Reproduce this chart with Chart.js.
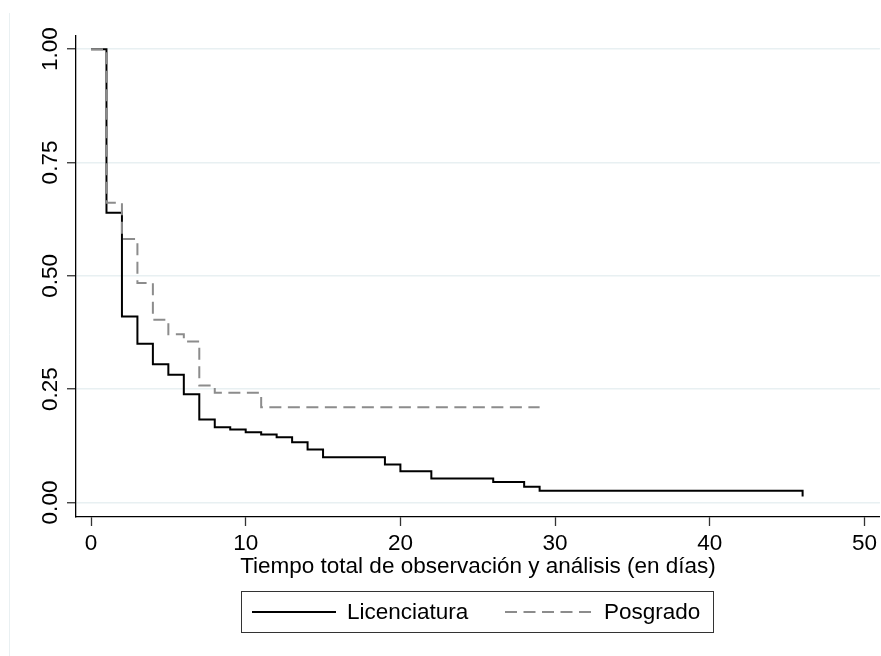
<!DOCTYPE html>
<html>
<head>
<meta charset="utf-8">
<script src="https://cdn.jsdelivr.net/npm/chart.js@4.4.0/dist/chart.umd.min.js"></script>
<style>
  html, body { margin: 0; padding: 0; background: #ffffff; }
  #c { display: block; }
</style>
</head>
<body>
<canvas id="c" width="881" height="656"></canvas>
<script>
// ---- Data (Kaplan-Meier estimates) ----
const licTimes = [0, 1, 2, 3, 4, 5, 6, 7, 8, 9, 10, 11, 12, 13, 14, 15, 19, 20, 22, 26, 28, 29, 46];
const licSurv  = [1.000, 0.639, 0.410, 0.350, 0.305, 0.282, 0.239, 0.183, 0.166, 0.161, 0.155, 0.150, 0.144, 0.133, 0.117, 0.100, 0.084, 0.069, 0.053, 0.045, 0.035, 0.026, 0.013];

const posTimes = [0, 1, 2, 3, 4, 5, 6, 7, 8, 11, 29];
const posSurv  = [1.000, 0.661, 0.581, 0.484, 0.403, 0.371, 0.355, 0.258, 0.242, 0.210, 0.210];

const seriesNames = ['Licenciatura', 'Posgrado'];
const xTickValues = [0, 10, 20, 30, 40, 50];
const yTickValues = [0, 0.25, 0.50, 0.75, 1.00];
const yTickLabels = ['0.00', '0.25', '0.50', '0.75', '1.00'];
const xTitle = 'Tiempo total de observación y análisis (en días)';

const FONT = '"Liberation Sans", Arial, Helvetica, sans-serif';
const FS = 22.5;

const toPts = (xs, ys) => xs.map((x, i) => ({ x: x, y: ys[i] }));

// Faint outer region edge
const bgPlugin = {
  id: 'bgEdge',
  beforeDraw(chart) {
    const ctx = chart.ctx;
    ctx.save();
    ctx.fillStyle = '#ffffff';
    ctx.fillRect(0, 0, chart.width, chart.height);
    ctx.strokeStyle = '#e9f0f2';
    ctx.lineWidth = 1;
    ctx.beginPath();
    ctx.moveTo(9.5, 13);
    ctx.lineTo(9.5, chart.height);
    ctx.stroke();
    ctx.restore();
  }
};

// Rotated y tick labels (Stata style) and boxed legend
const decorPlugin = {
  id: 'decor',
  afterDraw(chart) {
    const ctx = chart.ctx;
    const ys = chart.scales.y;
    ctx.save();
    ctx.fillStyle = '#000000';
    ctx.font = FS + 'px ' + FONT;
    ctx.textAlign = 'center';
    ctx.textBaseline = 'alphabetic';
    yTickValues.forEach((v, i) => {
      const py = ys.getPixelForValue(v);
      ctx.save();
      ctx.translate(57, py);
      ctx.rotate(-Math.PI / 2);
      ctx.fillText(yTickLabels[i], 0, 0);
      ctx.restore();
    });

    // legend
    const lx = 241.5, ly = 591.5, lw = 472, lh = 41;
    ctx.strokeStyle = '#333333';
    ctx.lineWidth = 1;
    ctx.strokeRect(lx, ly, lw, lh);
    const cy = 612;
    ctx.lineWidth = 2;
    ctx.strokeStyle = '#000000';
    ctx.setLineDash([]);
    ctx.beginPath(); ctx.moveTo(252, cy); ctx.lineTo(336, cy); ctx.stroke();
    ctx.strokeStyle = '#8c8c8c';
    ctx.setLineDash([12, 6.5]);
    ctx.beginPath(); ctx.moveTo(505, cy); ctx.lineTo(591, cy); ctx.stroke();
    ctx.setLineDash([]);
    ctx.textAlign = 'left';
    ctx.textBaseline = 'middle';
    ctx.fillStyle = '#000000';
    ctx.fillText(seriesNames[0], 347, cy + 1);
    ctx.fillText(seriesNames[1], 604, cy + 1);
    ctx.restore();
  }
};

new Chart(document.getElementById('c'), {
  type: 'line',
  data: {
    datasets: [
      {
        label: seriesNames[0],
        data: toPts(licTimes, licSurv),
        borderColor: '#000000',
        borderWidth: 2,
        stepped: true,
        pointRadius: 0,
        fill: false,
        order: 2
      },
      {
        label: seriesNames[1],
        data: toPts(posTimes, posSurv),
        borderColor: '#8c8c8c',
        borderWidth: 2,
        borderDash: [12, 6.5],
        stepped: true,
        pointRadius: 0,
        fill: false,
        order: 1
      }
    ]
  },
  options: {
    responsive: false,
    animation: false,
    devicePixelRatio: 1,
    layout: { padding: { top: 36, left: 0, right: 0, bottom: 0 } },
    plugins: {
      legend: { display: false },
      tooltip: { enabled: false },
      title: { display: false }
    },
    scales: {
      x: {
        type: 'linear',
        min: -0.97,
        max: 51.0,
        afterBuildTicks(scale) { scale.ticks = xTickValues.map(v => ({ value: v })); },
        afterFit(scale) { scale.height = 139; },
        ticks: {
          color: '#000000',
          font: { family: FONT, size: FS },
          padding: 4,
          maxRotation: 0,
          autoSkip: false,
          callback: (v) => String(v)
        },
        grid: {
          drawOnChartArea: false,
          drawTicks: true,
          tickLength: 9,
          tickColor: '#333333',
          tickWidth: 1.3
        },
        border: { display: true, color: '#000000', width: 1.3 },
        title: {
          display: true,
          text: xTitle,
          color: '#000000',
          font: { family: FONT, size: FS },
          padding: { top: 0, bottom: 76 }
        }
      },
      y: {
        type: 'linear',
        min: -0.032,
        max: 1.029,
        afterBuildTicks(scale) { scale.ticks = yTickValues.map(v => ({ value: v })); },
        afterFit(scale) { scale.width = 76; },
        ticks: { display: false },
        grid: {
          color: '#e8f0f2',
          lineWidth: 1.5,
          drawTicks: true,
          tickLength: 9,
          tickColor: '#333333',
          tickWidth: 1.3
        },
        border: { display: true, color: '#000000', width: 1.3 }
      }
    }
  },
  plugins: [bgPlugin, decorPlugin]
});
</script>
</body>
</html>
